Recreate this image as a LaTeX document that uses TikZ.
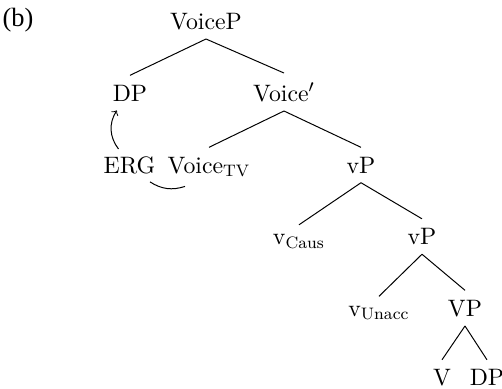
\documentclass[tikz,border=0pt]{standalone}
\usepackage{fontspec}
\newfontfamily\labelfont{LiberationSerif-Regular.ttf}
\begin{document}
\begin{tikzpicture}[x=0.4545pt,y=-0.4545pt,
  cat/.style={anchor=base,inner xsep=2pt,inner ysep=4.1pt,font=\fontsize{10.8}{13}\selectfont},
  branch/.style={line width=0.45pt},
  move/.style={line width=0.45pt}]
\useasboundingbox (0,0) rectangle (502,388);

% panel label
\node[font=\labelfont\fontsize{12}{14}\selectfont] (lbl) at (18,20) {(b)};

% tree nodes, placed on their baselines
\node[cat] (voiceP)  at (206,29)    {VoiceP};
\node[cat] (dpA)     at (130,101)   {DP};
\node[cat] (voiceB)  at (284,101)   {Voice$'$};
\node[cat] (erg)     at (129.5,173) {ERG};
\node[cat] (voiceTV) at (209,173)   {Voice$_{\mathrm{TV}}$};
\node[cat] (vpA)     at (361,173)   {vP};
\node[cat] (vCaus)   at (299,244.5) {v$_{\mathrm{Caus}}$};
\node[cat] (vpB)     at (422,244.5) {vP};
\node[cat] (vUnacc)  at (379,316)   {v$_{\mathrm{Unacc}}$};
\node[cat] (VP)      at (465,316)   {VP};
\node[cat] (V)       at (442,385.5) {V};
\node[cat] (dpB)     at (487,385.5) {DP};

% branches
\draw[branch] (voiceP.south) -- (dpA.north);
\draw[branch] (voiceP.south) -- (voiceB.north);
\draw[branch] (voiceB.south) -- (voiceTV.north);
\draw[branch] (voiceB.south) -- (vpA.north);
\draw[branch] (vpA.south) -- (vCaus.north);
\draw[branch] (vpA.south) -- (vpB.north);
\draw[branch] (vpB.south) -- (vUnacc.north);
\draw[branch] (vpB.south) -- (VP.north);
\draw[branch] (VP.south) -- (V.north);
\draw[branch] (VP.south) -- (dpB.north);

% movement of ERG to the specifier, and the link under ERG and Voice
\draw[move,->] ([xshift=-5pt,yshift=-1pt]erg.north) to[bend left=35] ([xshift=-6pt]dpA.south);
\draw[move] ([xshift=9.3pt,yshift=0.5pt]erg.south) to[bend right=25] ([xshift=-10.9pt]voiceTV.south);
\end{tikzpicture}
\end{document}
